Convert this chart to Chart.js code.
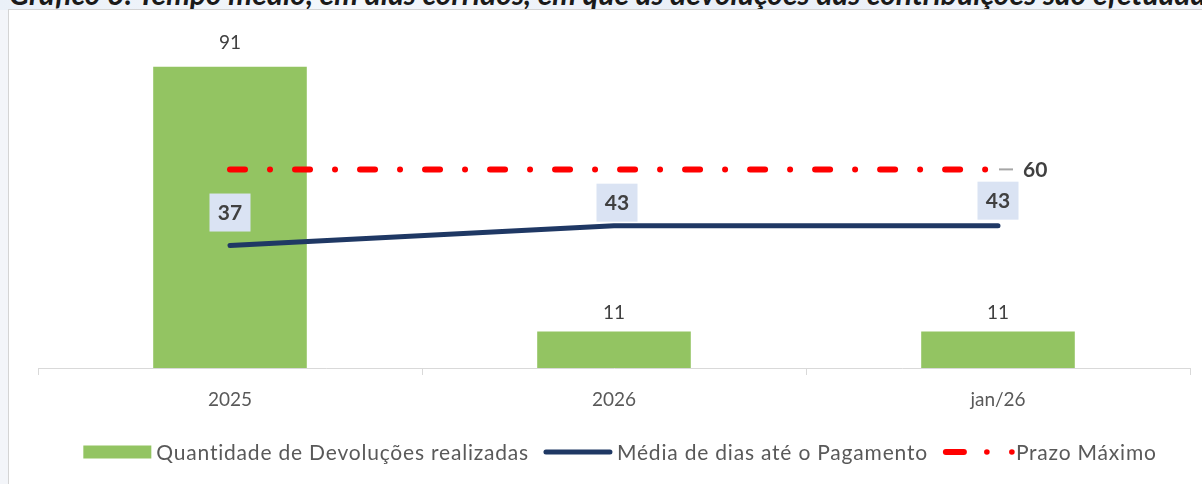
<!DOCTYPE html>
<html>
<head>
<meta charset="utf-8">
<script src="https://cdn.jsdelivr.net/npm/chart.js@4.4.1/dist/chart.umd.min.js"></script>
<style>
  html, body { margin: 0; padding: 0; }
  body { width: 1202px; height: 484px; overflow: hidden; position: relative; background: #f3f5f9; font-family: Lato, sans-serif; }
  #strip { position: absolute; left: 0; top: 0; width: 1202px; height: 10px; background: linear-gradient(90deg, #eaf0f8 0%, #f4f7fb 30%, #e9eff8 60%, #f2f5fa 100%); }
  #title { position: absolute; left: 9px; top: -22px; line-height: 30px; white-space: nowrap; font-weight: bold; font-style: italic; font-size: 30px; color: #1a1a1a; }
  #frame { position: absolute; left: 8px; top: 9px; width: 1300px; height: 600px; background: #fff; border-left: 1px solid #d4d4d4; border-top: 1px solid #d4d4d4; }
  #wrap { position: absolute; left: 0; top: 0; width: 1202px; height: 484px; }
</style>
</head>
<body>
<div id="strip"></div>
<div id="title">Gráfico 3: Tempo médio, em dias corridos, em que as devoluções das contribuições são efetuadas</div>
<div id="frame"></div>
<div id="wrap"><canvas id="c" width="1202" height="484"></canvas></div>
<script>
const categories = ['2025', '2026', 'jan/26'];
const devolucoes = [91, 11, 11];
const mediaDias = [37, 43, 43];
const prazoMaximo = [60, 60, 60];
const seriesNames = ['Quantidade de Devoluções realizadas', 'Média de dias até o Pagamento', 'Prazo Máximo'];

const FONT = 'Lato, sans-serif';
const GREEN = '#93c462';
const NAVY = '#1f3864';
const RED = '#ff0000';
const TXT = '#404040';

const labelPlugin = {
  id: 'labels',
  afterDatasetsDraw(chart) {
    const ctx = chart.ctx;
    ctx.save();
    // bar labels
    const barMeta = chart.getDatasetMeta(0);
    ctx.font = '19px ' + FONT;
    ctx.fillStyle = TXT;
    ctx.textAlign = 'center';
    ctx.textBaseline = 'middle';
    barMeta.data.forEach((el, i) => {
      ctx.fillText(String(chart.data.datasets[0].data[i]), el.x, el.y - (i === 0 ? 24 : 19));
    });
    // media labels in boxes
    const lineMeta = chart.getDatasetMeta(1);
    const offs = [33, 23, 25];
    ctx.font = 'bold 21px ' + FONT;
    lineMeta.data.forEach((el, i) => {
      const cy = el.y - offs[i];
      const cx = el.x + (i === 1 ? 3 : 0);
      ctx.fillStyle = '#dae3f3';
      ctx.fillRect(cx - 20.5, cy - 19, 41, 38);
      ctx.fillStyle = TXT;
      ctx.fillText(String(chart.data.datasets[1].data[i]), cx, cy + 1);
    });
    // prazo label on last point
    const pm = chart.getDatasetMeta(2);
    const last = pm.data[pm.data.length - 1];
    ctx.strokeStyle = '#a6a6a6';
    ctx.lineWidth = 2;
    ctx.beginPath();
    ctx.moveTo(last.x + 1, last.y);
    ctx.lineTo(last.x + 15, last.y);
    ctx.stroke();
    ctx.fillStyle = TXT;
    ctx.textAlign = 'left';
    ctx.fillText(String(chart.data.datasets[2].data[pm.data.length - 1]), last.x + 25, last.y + 1);
    ctx.restore();
  },
  afterDraw(chart) {
    const ctx = chart.ctx;
    ctx.save();
    ctx.font = '21px ' + FONT;
    ctx.letterSpacing = '0.8px';
    ctx.textBaseline = 'middle';
    ctx.textAlign = 'left';
    const y = 452;
    const marker = 68, gapT = 5, gapI = 15;
    const widths = seriesNames.map(n => ctx.measureText(n).width);
    let total = 0;
    widths.forEach((w, i) => { total += marker + gapT + w + (i < widths.length - 1 ? gapI : 0); });
    let x = 620 - total / 2;
    seriesNames.forEach((name, i) => {
      if (i === 0) {
        ctx.fillStyle = GREEN;
        ctx.fillRect(x, y - 6.5, marker, 13);
      } else if (i === 1) {
        ctx.strokeStyle = NAVY;
        ctx.lineWidth = 5;
        ctx.lineCap = 'round';
        ctx.beginPath();
        ctx.moveTo(x + 2, y);
        ctx.lineTo(x + marker - 2, y);
        ctx.stroke();
      } else {
        ctx.strokeStyle = RED;
        ctx.fillStyle = RED;
        ctx.lineWidth = 6;
        ctx.lineCap = 'round';
        ctx.beginPath();
        ctx.moveTo(x + 3, y);
        ctx.lineTo(x + 21, y);
        ctx.stroke();
        [44, 69].forEach(dx => {
          ctx.beginPath();
          ctx.arc(x + dx, y, 2.8, 0, Math.PI * 2);
          ctx.fill();
        });
      }
      ctx.fillStyle = '#595959';
      ctx.fillText(name, x + marker + gapT, y + 1);
      x += marker + gapT + widths[i] + gapI;
    });
    ctx.restore();
  }
};

new Chart(document.getElementById('c'), {
  type: 'bar',
  data: {
    labels: categories,
    datasets: [
      { type: 'bar', label: seriesNames[0], data: devolucoes, backgroundColor: GREEN, borderWidth: 0,
        barPercentage: 0.4, categoryPercentage: 1, order: 3 },
      { type: 'line', label: seriesNames[1], data: mediaDias, borderColor: NAVY, borderWidth: 5,
        pointRadius: 0, tension: 0, borderCapStyle: 'round', borderJoinStyle: 'round', order: 2 },
      { type: 'line', label: seriesNames[2], data: prazoMaximo, borderColor: RED, borderWidth: 6,
        pointRadius: 0, tension: 0, borderCapStyle: 'round', borderDash: [15, 25, 0.01, 25], order: 1 }
    ]
  },
  options: {
    responsive: false,
    animation: false,
    events: [],
    layout: { padding: { left: 38, right: 12, top: 37, bottom: 0 } },
    plugins: { legend: { display: false }, tooltip: { enabled: false } },
    scales: {
      y: { display: false, min: 0, max: 100 },
      x: {
        offset: true,
        grid: { offset: true, drawOnChartArea: false, drawTicks: true, tickLength: 7, color: '#d9d9d9', lineWidth: 1 },
        border: { display: true, color: '#d9d9d9', width: 1 },
        ticks: { color: '#595959', font: { family: FONT, size: 19 }, padding: 13, maxRotation: 0 },
        afterFit(s) { s.height = 116; }
      }
    }
  },
  plugins: [labelPlugin]
});
</script>
</body>
</html>
